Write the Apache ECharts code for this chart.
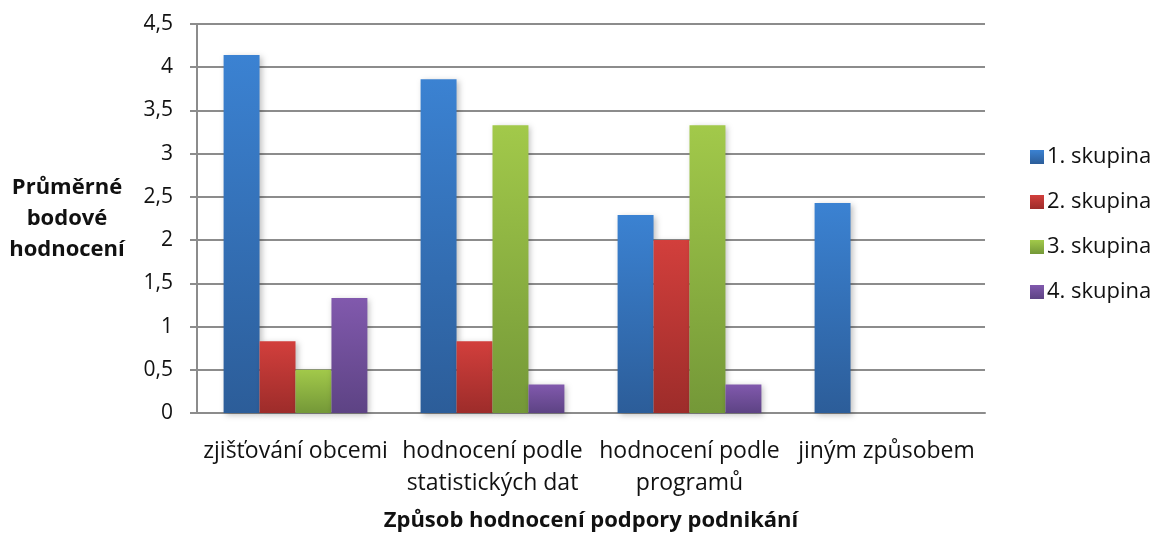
<!DOCTYPE html>
<html>
<head>
<meta charset="utf-8">
<script src="https://cdn.jsdelivr.net/npm/echarts@6/dist/echarts.min.js"></script>
<style>
  html, body { margin: 0; padding: 0; background: #fff; }
  #chart { width: 1159px; height: 533px; }
</style>
</head>
<body>
<div id="chart"></div>
<script>
// data
const categories = ['zjišťování obcemi', 'hodnocení podle\nstatistických dat', 'hodnocení podle\nprogramů', 'jiným způsobem']
const seriesNames = ['1. skupina', '2. skupina', '3. skupina', '4. skupina']
const group1 = [4.14, 3.86, 2.29, 2.43]
const group2 = [0.83, 0.83, 2.0, 0]
const group3 = [0.5, 3.33, 3.33, 0]
const group4 = [1.33, 0.33, 0.33, 0]

const fontFamily = '"Open Sans", Lato, sans-serif'
// top / bottom colours of the excel-like gradients
const colors = [
  ['#3b82d2', '#2c5d99'],
  ['#d23f3c', '#9d2c2a'],
  ['#a2c94a', '#749838'],
  ['#8159ad', '#5d4384']
]

const makeSeries = (name, data, i) => ({
  name: name,
  type: 'bar',
  data: data,
  barGap: '0%',
  barCategoryGap: '27%',
  itemStyle: {
    color: new echarts.graphic.LinearGradient(0, 0, 0, 1, [
      { offset: 0, color: colors[i][0] },
      { offset: 1, color: colors[i][1] }
    ]),
    shadowColor: 'rgba(0,0,0,0.25)',
    shadowBlur: 6,
    shadowOffsetX: 2,
    shadowOffsetY: 2
  }
})

const chart = echarts.init(document.getElementById('chart'))
chart.setOption({
  animation: false,
  textStyle: { fontFamily: fontFamily },
  grid: { left: 197, right: 174, top: 24, bottom: 120, outerBoundsMode: 'none', containLabel: false },
  legend: {
    orient: 'vertical',
    left: 1025,
    top: 141,
    itemWidth: 14,
    itemHeight: 14,
    itemGap: 23,
    icon: 'rect',
    textStyle: { fontSize: 22, color: '#111', fontFamily: fontFamily, padding: [0, 0, 0, -2] },
    data: seriesNames
  },
  xAxis: {
    type: 'category',
    data: categories,
    name: 'Způsob hodnocení podpory podnikání',
    nameLocation: 'middle',
    nameGap: 97,
    nameTextStyle: { fontSize: 22, fontWeight: 'bold', color: '#111' },
    axisLine: { lineStyle: { color: '#8c8c8c', width: 2 } },
    axisTick: { lineStyle: { color: '#8c8c8c', width: 2 }, length: 8 },
    axisLabel: { fontSize: 23, color: '#111', interval: 0, lineHeight: 32, margin: 22 }
  },
  yAxis: {
    type: 'value',
    min: 0,
    max: 4.5,
    interval: 0.5,
    name: 'Průměrné\nbodové\nhodnocení',
    nameLocation: 'middle',
    nameRotate: 0,
    nameGap: 130,
    nameTextStyle: { fontSize: 22, fontWeight: 'bold', color: '#111', lineHeight: 31, align: 'center' },
    axisLine: { show: true, lineStyle: { color: '#8c8c8c', width: 2 } },
    axisTick: { show: true, lineStyle: { color: '#8c8c8c', width: 2 }, length: 7 },
    splitLine: { lineStyle: { color: '#8c8c8c', width: 2 } },
    axisLabel: {
      fontSize: 21,
      color: '#111',
      margin: 24,
      formatter: v => String(v).replace('.', ',')
    }
  },
  series: [
    makeSeries(seriesNames[0], group1, 0),
    makeSeries(seriesNames[1], group2, 1),
    makeSeries(seriesNames[2], group3, 2),
    makeSeries(seriesNames[3], group4, 3)
  ]
})
</script>
</body>
</html>
